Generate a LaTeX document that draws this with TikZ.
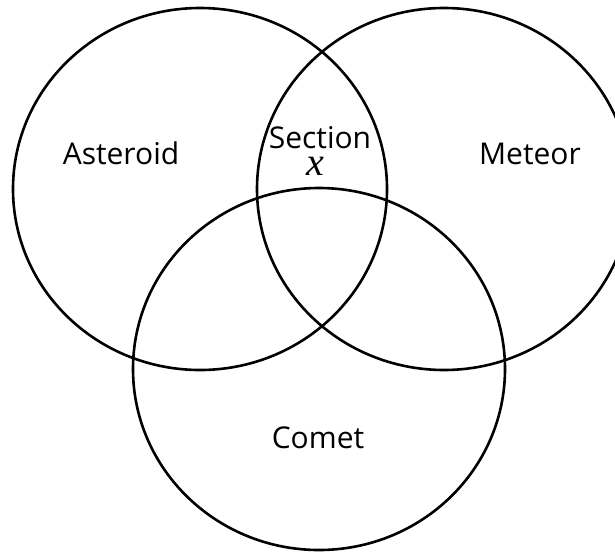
\documentclass[tikz,border=0pt]{standalone}
\usepackage{fontspec}
\setmainfont{Open Sans}
\newfontfamily\xfont{Liberation Serif}
\begin{document}
\begin{tikzpicture}[x=1pt,y=-1pt,
  setcirc/.style={draw=black,line width=2.6pt},
  lab/.style={font=\fontsize{30}{32}\selectfont,inner sep=0pt,anchor=base}]
\useasboundingbox (0,0) rectangle (615,554);
\clip (0,0) rectangle (615,554);
\fill[white] (0,0) rectangle (615,554);
\draw[setcirc] (200,189) ellipse [x radius=187,y radius=181];
\draw[setcirc] (444,189) ellipse [x radius=187,y radius=181];
\draw[setcirc] (319,369) ellipse [x radius=186,y radius=181];
\node[lab] (ast) at (121,164) {Asteroid};
\node[lab] (met) at (530,164) {Meteor};
\node[lab] (com) at (318,448) {Comet};
\node[lab] (sec) at (320,148) {Section};
\node[inner sep=0pt,anchor=base,font=\fontsize{40}{42}\selectfont\xfont\itshape] (x) at (315,175) {x};
\end{tikzpicture}
\end{document}
